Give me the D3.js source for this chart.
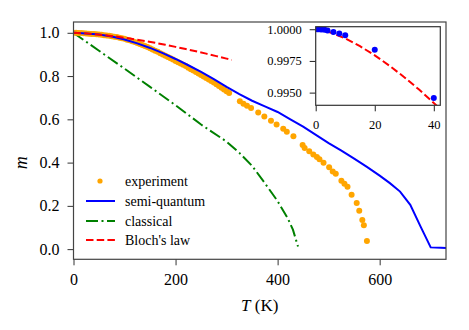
<!DOCTYPE html>
<html>
<head>
<meta charset="utf-8">
<script src="https://cdn.jsdelivr.net/npm/d3@7"></script>
<style>
body { margin: 0; background: #fff; }
</style>
</head>
<body>
<div id="chart"></div>
<script>
// experiment: dense scan up to ~305 K, then single points
var expT = [0, 5, 10, 15, 20, 25, 30, 35, 40, 45, 50, 55, 60, 65, 70, 75, 80, 85, 90, 95,
    100, 105, 110, 115, 120, 125, 130, 135, 140, 145, 150, 155, 160, 165, 170, 175, 180, 185, 190, 195,
    200, 205, 210, 215, 220, 225, 230, 235, 240, 245, 250, 255, 260, 265, 270, 275, 280, 285, 290, 295,
    300, 305, 326, 333, 340, 348, 362, 374, 387, 398, 411, 418, 431, 449, 453, 462, 470, 477, 482, 490,
    501, 508, 514, 525, 531, 537, 545, 555, 560, 566, 569, 575];
var expM = [1.000, 1.000, 0.9995, 0.999, 0.998, 0.997, 0.996, 0.995, 0.994, 0.993, 0.992, 0.991, 0.989, 0.988, 0.986, 0.984, 0.982, 0.980, 0.977, 0.975,
    0.972, 0.968, 0.965, 0.961, 0.957, 0.953, 0.948, 0.944, 0.939, 0.934, 0.928, 0.923, 0.917, 0.912, 0.906, 0.900, 0.894, 0.888, 0.882, 0.876,
    0.870, 0.864, 0.858, 0.852, 0.846, 0.839, 0.832, 0.826, 0.819, 0.812, 0.805, 0.798, 0.791, 0.784, 0.777, 0.770, 0.762, 0.754, 0.746, 0.738,
    0.730, 0.722, 0.683, 0.672, 0.663, 0.652, 0.632, 0.613, 0.594, 0.576, 0.556, 0.543, 0.522, 0.481, 0.467, 0.452, 0.438, 0.426, 0.415, 0.399,
    0.379, 0.359, 0.348, 0.316, 0.302, 0.288, 0.251, 0.213, 0.177, 0.135, 0.110, 0.038];

// semi-quantum model
var sqT = [0, 25, 50, 75, 100, 125, 150, 175, 200, 225, 250, 275, 300, 325, 350, 375, 400, 425, 450, 475,
    500, 525, 550, 575, 600, 620, 640, 660, 680, 700, 720, 730];
var sqM = [1.000, 0.997, 0.992, 0.983, 0.969, 0.951, 0.930, 0.906, 0.879, 0.850, 0.819, 0.786, 0.750, 0.716, 0.686, 0.660, 0.634, 0.600, 0.566, 0.528,
    0.490, 0.455, 0.418, 0.380, 0.340, 0.305, 0.266, 0.205, 0.105, 0.008, 0.006, 0.005];

// classical model
var clT = [0, 50, 100, 150, 200, 250, 300, 325, 350, 375, 400, 420, 430, 440];
var clM = [1.000, 0.917, 0.834, 0.750, 0.665, 0.576, 0.497, 0.445, 0.385, 0.305, 0.222, 0.142, 0.090, 0.012];

// Bloch's law
var blochT = [0, 20, 40, 60, 80, 100, 120, 140, 160, 180, 200, 220, 240, 260, 280, 300, 310];
var blochM = [1.000, 0.9979, 0.9942, 0.9893, 0.9835, 0.9770, 0.9698, 0.9619, 0.9535, 0.9445, 0.9349, 0.9250, 0.9145, 0.9036, 0.8922, 0.8805, 0.8745];

// inset: low temperature
var insetT = [0.5, 1, 1.5, 2, 3, 4, 6, 8, 10, 20, 40];
var insetM = [1.0000, 1.0000, 0.99999, 0.99998, 0.99996, 0.99991, 0.99979, 0.99966, 0.99952, 0.99839, 0.99457];
var insetBlochT = [0, 5, 10, 15, 20, 25, 30, 35, 40, 42];
var insetBlochM = [1.0000, 0.99974, 0.99927, 0.99866, 0.99794, 0.99712, 0.99622, 0.99524, 0.99418, 0.99374];

var xTicks = [0, 200, 400, 600];
var yTicks = [0.0, 0.2, 0.4, 0.6, 0.8, 1.0];
var insetXTicks = [0, 20, 40];
var insetYTicks = [0.9950, 0.9975, 1.0000];

var legendLabels = ["experiment", "semi-quantum", "classical", "Bloch's law"];

var FONT = "'Liberation Serif'";

var W = 469, H = 330;
var margin = {top: 22, right: 23, bottom: 70.7, left: 73.5};
var width = W - margin.left - margin.right;
var height = H - margin.top - margin.bottom;

var svg = d3.select("#chart").append("svg")
    .attr("width", W).attr("height", H);

var x = d3.scaleLinear().domain([0, 730]).range([0, width]);
var y = d3.scaleLinear().domain([-0.047, 1.0499]).range([height, 0]);

var g = svg.append("g")
    .attr("transform", "translate(" + margin.left + "," + margin.top + ")");

g.append("clipPath").attr("id", "clip-main")
  .append("rect").attr("width", width).attr("height", height);

// axes
var xAxis = g.append("g")
    .attr("transform", "translate(0," + height + ")")
    .call(d3.axisBottom(x).tickValues(xTicks).tickSize(6).tickPadding(8).tickFormat(d3.format("d")));
var yAxis = g.append("g")
    .call(d3.axisLeft(y).tickValues(yTicks).tickSize(6).tickPadding(8).tickFormat(d3.format(".1f")));
[xAxis, yAxis].forEach(function(a) {
    a.select(".domain").remove();
    a.selectAll("line").attr("stroke", "#333");
    a.selectAll("text").style("font-family", FONT).style("font-size", "16px").attr("fill", "#000");
});

var plot = g.append("g").attr("clip-path", "url(#clip-main)");

function lineOf(xs, ys, sx, sy) {
    return d3.line()
        .x(function(d, i) { return sx(xs[i]); })
        .y(function(d, i) { return sy(ys[i]); })(xs);
}

// classical
plot.append("path")
    .attr("d", lineOf(clT, clM, x, y))
    .attr("fill", "none").attr("stroke", "#008000").attr("stroke-width", 2)
    .attr("stroke-dasharray", "12,3.5,2,3.5");

// experiment dots
plot.selectAll(".exp")
    .data(expT).enter().append("circle")
    .attr("class", "exp")
    .attr("cx", function(d) { return x(d); })
    .attr("cy", function(d, i) { return y(expM[i]); })
    .attr("r", 3)
    .attr("fill", "#ffa500");

// semi-quantum
plot.append("path")
    .attr("d", lineOf(sqT, sqM, x, y))
    .attr("fill", "none").attr("stroke", "#0000ff").attr("stroke-width", 2);

// Bloch's law
plot.append("path")
    .attr("d", lineOf(blochT, blochM, x, y))
    .attr("fill", "none").attr("stroke", "#ff0000").attr("stroke-width", 2)
    .attr("stroke-dasharray", "7.5,3.2");

// frame
g.append("rect").attr("width", width).attr("height", height)
    .attr("fill", "none").attr("stroke", "#444").attr("stroke-width", 1.2);

// axis labels
svg.append("text")
    .attr("x", margin.left + width / 2).attr("y", 311)
    .attr("text-anchor", "middle")
    .style("font-family", FONT).style("font-size", "17px")
    .html("<tspan font-style='italic'>T</tspan> (K)");
svg.append("text")
    .attr("transform", "translate(27," + (margin.top + height / 2 + 22) + ") rotate(-90)")
    .attr("text-anchor", "middle")
    .style("font-family", FONT).style("font-size", "18px").style("font-style", "italic")
    .text("m");

// legend
var legend = g.append("g");
var legendY = [181, 201, 221, 240];
legendLabels.forEach(function(label, i) {
    var ly = legendY[i] - margin.top;
    if (i === 0) {
        legend.append("circle").attr("cx", 100 - margin.left).attr("cy", ly).attr("r", 2.6).attr("fill", "#ffa500");
    } else {
        var stroke = ["", "#0000ff", "#008000", "#ff0000"][i];
        var dash = ["", null, "12,3.5,2,3.5", "7.5,3.2"][i];
        legend.append("line")
            .attr("x1", 86 - margin.left).attr("x2", 115 - margin.left)
            .attr("y1", ly).attr("y2", ly)
            .attr("stroke", stroke).attr("stroke-width", 2)
            .attr("stroke-dasharray", dash);
    }
    legend.append("text")
        .attr("x", 125 - margin.left).attr("y", ly).attr("dy", "0.35em")
        .style("font-family", FONT).style("font-size", "14px")
        .text(label);
});

// inset
var inset = {left: 315.7, top: 26.7, width: 124.6, height: 78.6};
var xi = d3.scaleLinear().domain([0, 42.2]).range([0, inset.width]);
var yi = d3.scaleLinear().domain([0.994, 1.0002]).range([inset.height, 0]);

var gi = svg.append("g")
    .attr("transform", "translate(" + inset.left + "," + inset.top + ")");
gi.append("rect").attr("width", inset.width).attr("height", inset.height).attr("fill", "#fff");
gi.append("clipPath").attr("id", "clip-inset")
  .append("rect").attr("width", inset.width).attr("height", inset.height);

var xiAxis = gi.append("g")
    .attr("transform", "translate(0," + inset.height + ")")
    .call(d3.axisBottom(xi).tickValues(insetXTicks).tickSize(6).tickPadding(9).tickFormat(d3.format("d")));
var yiAxis = gi.append("g")
    .call(d3.axisLeft(yi).tickValues(insetYTicks).tickSize(6).tickPadding(8).tickFormat(d3.format(".4f")));
[xiAxis, yiAxis].forEach(function(a) {
    a.select(".domain").remove();
    a.selectAll("line").attr("stroke", "#222");
    a.selectAll("text").style("font-family", FONT).style("font-size", "12.5px").attr("fill", "#000");
});

var ip = gi.append("g").attr("clip-path", "url(#clip-inset)");
ip.append("path")
    .attr("d", lineOf(insetBlochT, insetBlochM, xi, yi))
    .attr("fill", "none").attr("stroke", "#ff0000").attr("stroke-width", 2)
    .attr("stroke-dasharray", "7.5,3.2");
ip.selectAll(".ins")
    .data(insetT).enter().append("circle")
    .attr("class", "ins")
    .attr("cx", function(d) { return xi(d); })
    .attr("cy", function(d, i) { return yi(insetM[i]); })
    .attr("r", 3)
    .attr("fill", "#0000ff");

gi.append("rect").attr("width", inset.width).attr("height", inset.height)
    .attr("fill", "none").attr("stroke", "#333").attr("stroke-width", 1.2);
</script>
</body>
</html>
